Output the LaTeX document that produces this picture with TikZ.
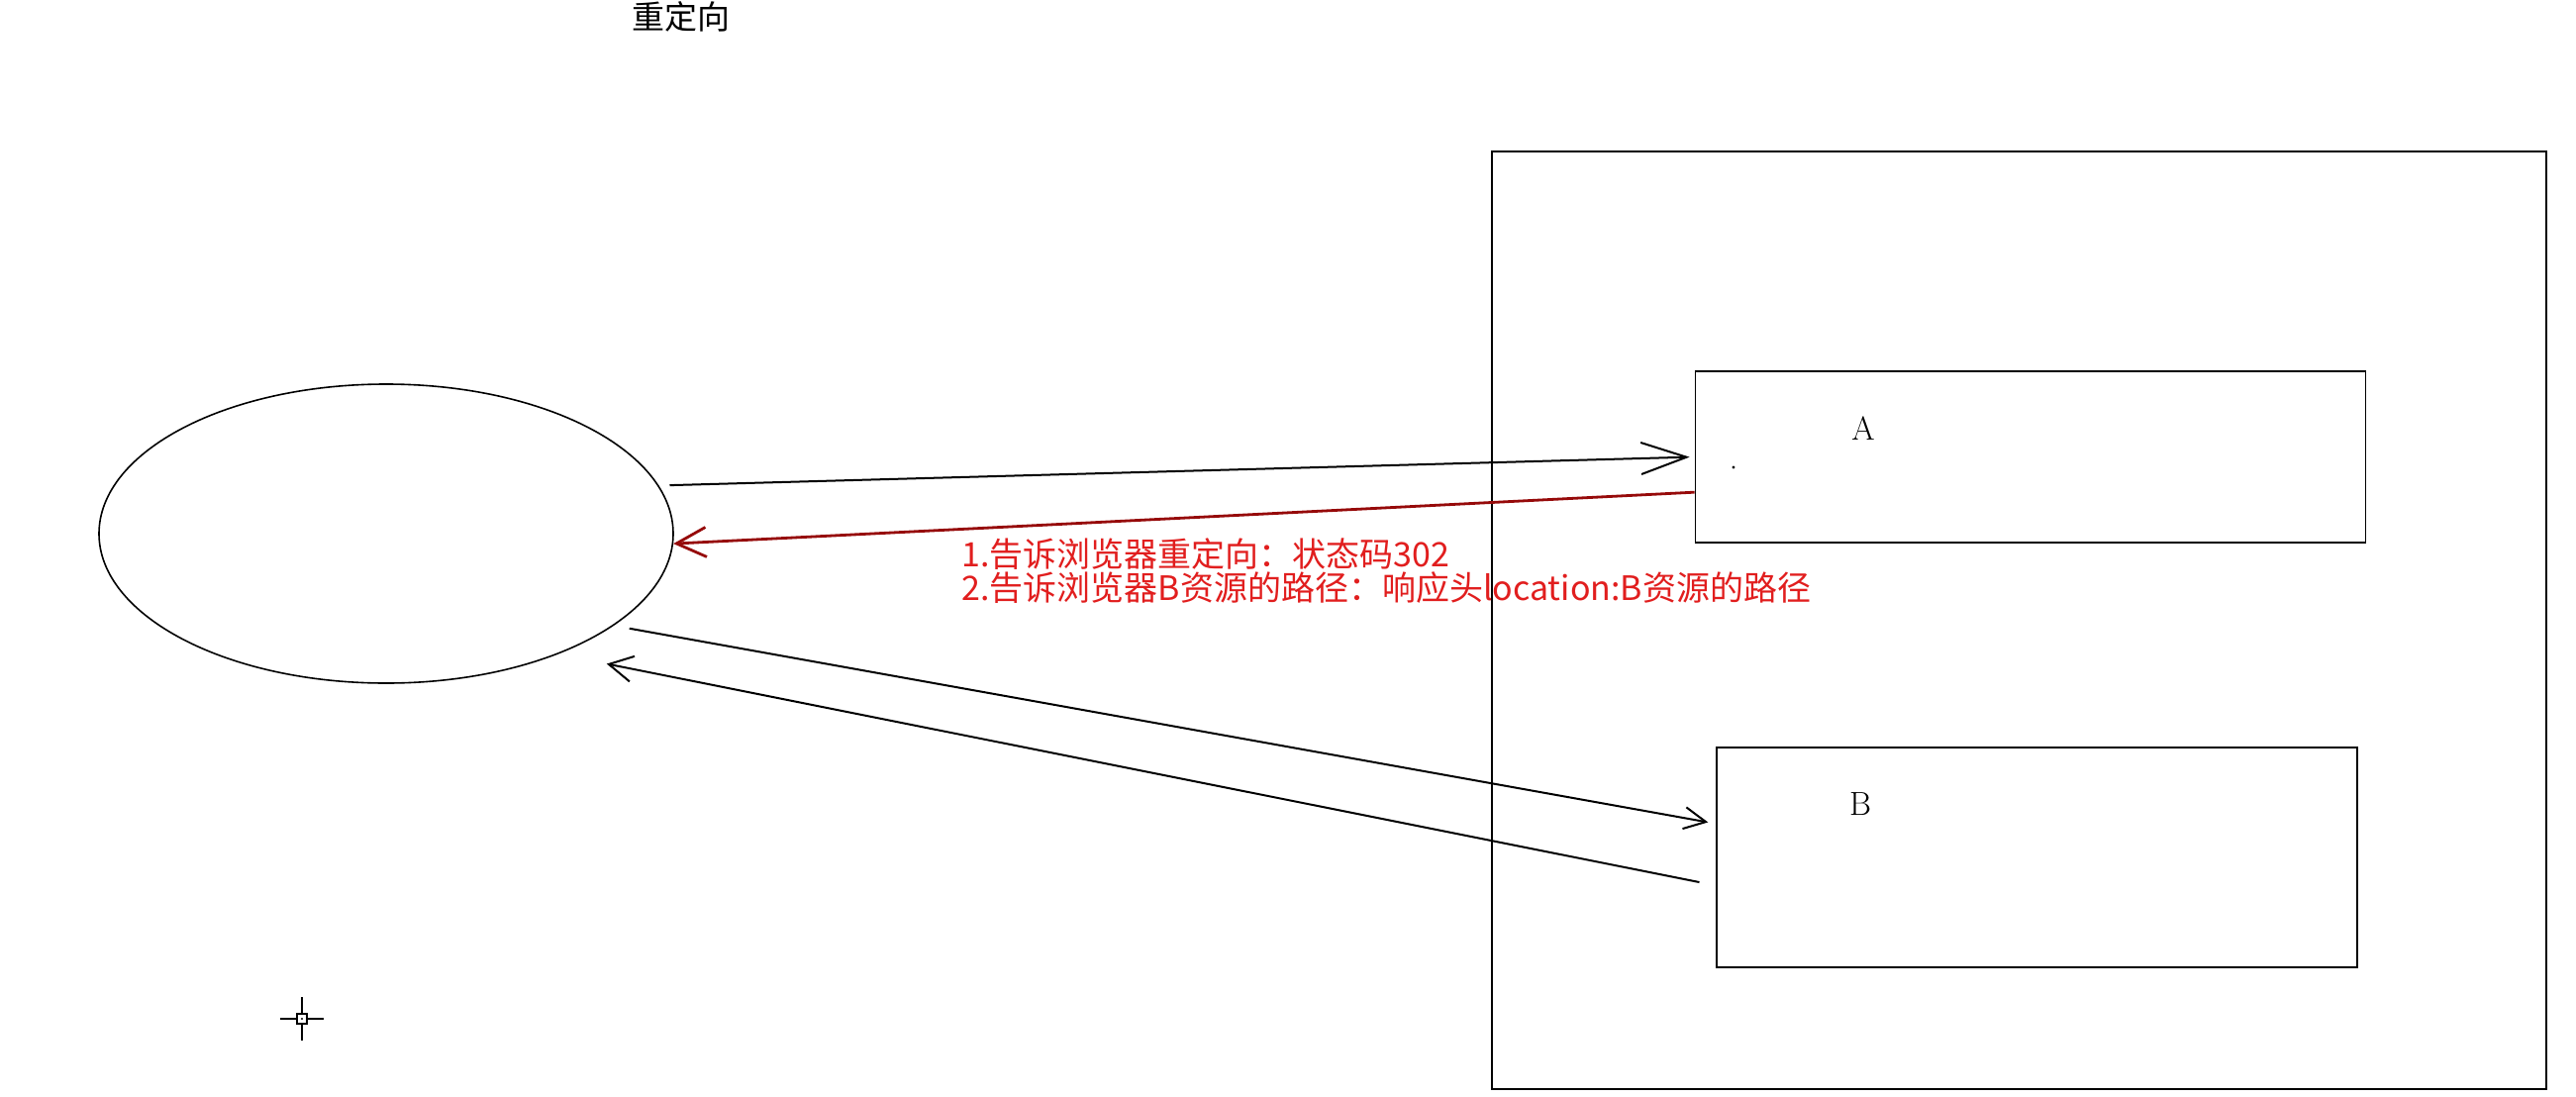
\documentclass[tikz,border=0pt]{standalone}
\usepackage{fontspec}
\usepackage{xcolor}
\usepackage{tikz}
\newfontfamily\cjkfont{Noto Sans CJK SC}
\usetikzlibrary{shapes.geometric, arrows.meta}

\definecolor{darkred}{RGB}{150,10,10}
\definecolor{notered}{RGB}{225,30,30}

\begin{document}
\begin{tikzpicture}[
    x=0.5pt, y=-0.5pt, % one unit = one pixel of the screenshot
    box/.style={rectangle, draw, line width=0.85pt, inner sep=0pt},
    client/.style={ellipse, draw, line width=0.8pt, inner sep=0pt, minimum width=290pt, minimum height=151pt},
    arrow/.style={-{Straight Barb[length=12pt, width=13pt]}, line width=1pt},
    redarrow/.style={arrow, draw=darkred, line width=1.4pt},
    letter/.style={font=\fontsize{16.8}{20}\selectfont},
    heading/.style={font=\cjkfont\fontsize{16.5}{18}\selectfont},
    note/.style={font=\cjkfont\fontsize{17}{15.75}\selectfont, text=notered, align=left, inner sep=0pt}
]
\useasboundingbox (0,0) rectangle (2602,1108);

% Title
\node[heading, anchor=north, inner sep=0pt] (title) at (688,1) {重定向};

% Server
\node[box, minimum width=532.5pt, minimum height=473.5pt] (server) at (2039.5,626.5) {};
\node[box, minimum width=338.5pt, minimum height=86.5pt] (A) at (2051,461.5) {};
\node[box, minimum width=323.5pt, minimum height=111pt] (B) at (2057.5,866) {};
\node[letter] (labelA) at (1882,433) {A};
\node[letter] (labelB) at (1879,812) {B};
\fill (1751,472) circle (0.8pt);

% Browser
\node[client] (browser) at (390,539) {};

% Arrows
\draw[arrow, -{Straight Barb[length=23pt, width=16pt]}, shorten <=5.5pt, shorten >=2.5pt] (browser.10) -- (A.west);
\draw[redarrow, -{Straight Barb[length=15pt, width=15pt]}] (A.186.6) -- (browser.-2);
\draw[arrow, -{Straight Barb[length=11pt, width=11pt]}, shorten <=8pt, shorten >=4pt] (browser.-22.5) -- (B.174.5);
\draw[arrow, shorten <=8.5pt, shorten >=25pt] (B.185.6) -- (browser.-35);

% Response note
\node[note, anchor=west] (note) at (971,576.5) {1.告诉浏览器重定向：状态码302\\2.告诉浏览器B资源的路径：响应头location:B资源的路径};

% Cursor
\coordinate (cursor) at (305,1029);
\draw[line width=1.3pt] ([xshift=-11pt]cursor) -- ([xshift=-2.5pt]cursor);
\draw[line width=1.3pt] ([xshift=2.5pt]cursor) -- ([xshift=11pt]cursor);
\draw[line width=1.3pt] ([yshift=-11pt]cursor) -- ([yshift=-2.5pt]cursor);
\draw[line width=1.3pt] ([yshift=2.5pt]cursor) -- ([yshift=11pt]cursor);
\draw[line width=0.8pt] ([shift={(-2.5pt,-2.5pt)}]cursor) rectangle ([shift={(2.5pt,2.5pt)}]cursor);
\fill (cursor) circle (0.6pt);

\end{tikzpicture}
\end{document}
